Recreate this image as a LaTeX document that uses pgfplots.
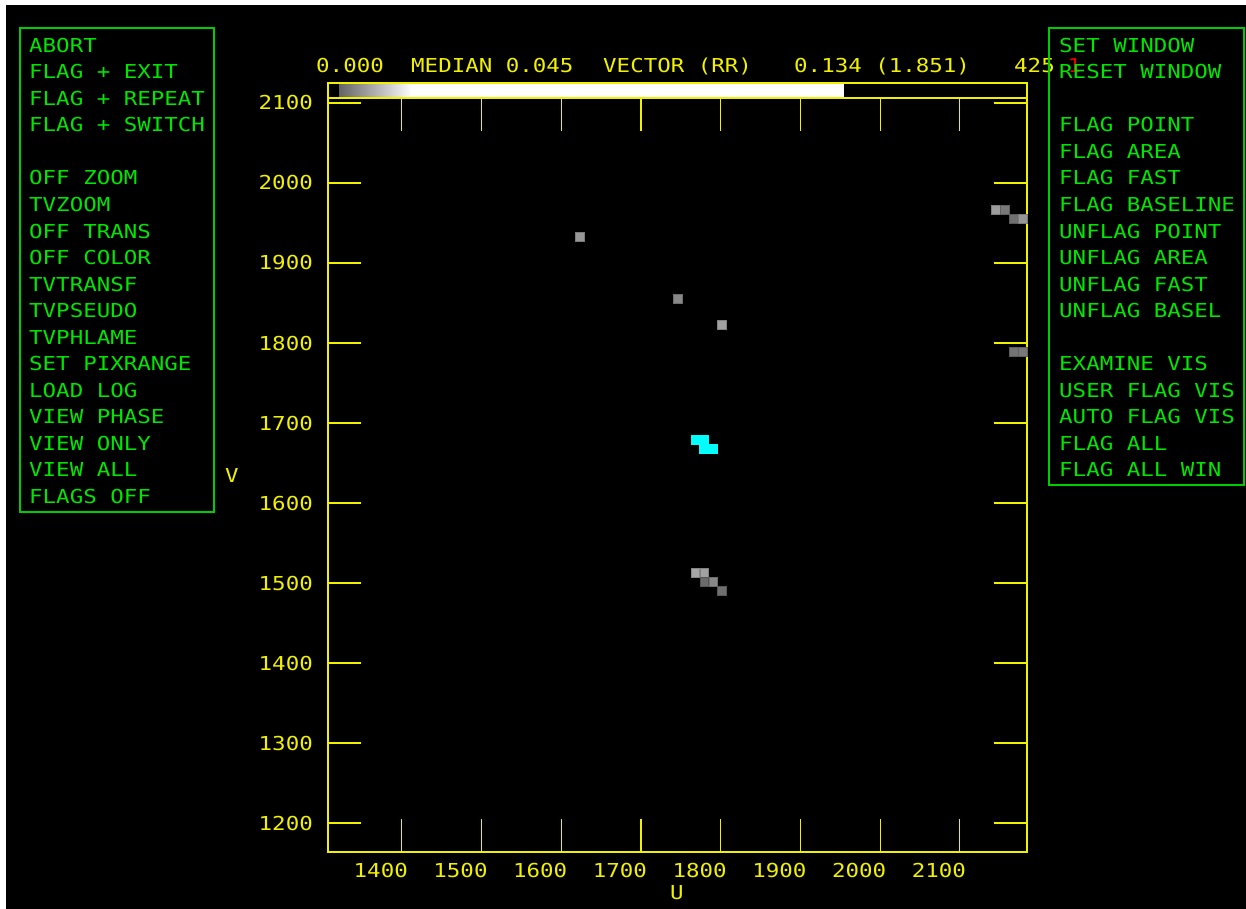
\documentclass[border=0pt]{standalone}
\usepackage{fontspec}
\usepackage{pgfplots}
\pgfplotsset{compat=1.18}
\newfontfamily\term[FakeStretch=1.17]{DejaVu Sans Mono}
\newcommand\tf{\term\fontsize{19.2}{20}\selectfont}
\definecolor{yl}{RGB}{240,240,0}
\definecolor{gn}{RGB}{0,230,0}
\definecolor{gnbox}{RGB}{0,205,0}
\definecolor{cy}{RGB}{0,255,255}
\definecolor{rd}{RGB}{230,0,0}
\definecolor{gstart}{RGB}{100,100,100}

\begin{document}
\begin{tikzpicture}
\useasboundingbox (0pt,0pt) rectangle (1246pt,-909pt);
\fill[black] (0pt,0pt) rectangle (1246pt,-909pt);
\fill[white] (0pt,0pt) rectangle (6pt,-909pt);
\fill[white] (0pt,0pt) rectangle (1246pt,-5pt);

\begin{axis}[
  at={(328pt,-852pt)}, anchor=south west,
  scale only axis, width=699pt, height=754pt,
  xmin=1307.5, xmax=2184.2, ymin=1163.75, ymax=2106.25,
  axis background/.style={fill=black},
  axis line style={yl, line width=1.5pt},
  xtick={1400,1500,...,2100},
  ytick={1200,1300,...,2100},
  xticklabels={1400,1500,1600,1700,1800,1900,2000,2100},
  yticklabels={1200,1300,1400,1500,1600,1700,1800,1900,2000,2100},
  tick align=inside, major tick length=33pt,
  tick style={yl, line width=1.2pt},
  xticklabel style={anchor=base, inner sep=0pt, xshift=-21pt, yshift=-25.3pt, font=\tf, text=yl},
  yticklabel style={anchor=base east, inner sep=0pt, xshift=-15pt, yshift=-7pt, font=\tf, text=yl},
  colormap={g}{gray(0cm)=(0); gray(1cm)=(1)},
  point meta min=0, point meta max=255,
  clip=true,
]
% grey cells (u, v) [grey level]
\addplot[scatter, only marks, mark=square*, mark size=4.45pt,
  scatter src=explicit] coordinates {
  (1623.7,1932.9) [150]
  (1745.9,1855.4) [135]
  (1801.1,1822.5) [160]
  (2145.0,1966.25) [155]
  (2156.0,1966.25) [120]
  (2167.5,1955.0) [110]
  (2178.5,1955.0) [150]
  (2167.5,1789.1) [115]
  (2178.5,1789.1) [120]
  (1768.1,1512.5) [165]
  (1779.3,1512.5) [160]
  (1779.3,1501.25) [105]
  (1790.6,1501.25) [135]
  (1801.6,1490.0) [110]
};
% selected cells
\addplot[only marks, mark=square*, mark size=4.45pt,
  mark options={fill=cy, draw=cy}] coordinates {
  (1768.0,1678.75) (1779.2,1678.75)
  (1779.2,1667.5) (1790.2,1667.5)
};
\end{axis}

\begin{scope}[x=1pt,y=-1pt]
% colour wedge above the plot
\shade[left color=gstart, right color=white] (339,84) rectangle (412,97);
\fill[white] (411.5,84) rectangle (844,97);
\draw[yl, line width=1.5pt] (328,83) rectangle (1027,98);

% header text
\tf
\node[anchor=base west, inner sep=0pt, text=yl] at (316,72.7) {0.000};
\node[anchor=base west, inner sep=0pt, text=yl] at (411,72.7) {MEDIAN 0.045};
\node[anchor=base west, inner sep=0pt, text=yl] at (603,72.7) {VECTOR (RR)};
\node[anchor=base west, inner sep=0pt, text=yl] at (794,72.7) {0.134 (1.851)};
\node[anchor=base west, inner sep=0pt, text=yl] at (1014,72.7) {425};
\node[anchor=base west, inner sep=0pt, text=rd] at (1067.4,72.7) {1};

% axis names
\node[anchor=base, inner sep=0pt, text=yl] at (232,482.7) {V};
\node[anchor=base, inner sep=0pt, text=yl] at (677,899) {U};

% left menu
\draw[gnbox, line width=2pt] (20,28) rectangle (214,512);
\foreach \t [count=\i from 0] in {ABORT,FLAG + EXIT,FLAG + REPEAT,FLAG + SWITCH,,OFF ZOOM,TVZOOM,OFF TRANS,OFF COLOR,TVTRANSF,TVPSEUDO,TVPHLAME,SET PIXRANGE,LOAD LOG,VIEW PHASE,VIEW ONLY,VIEW ALL,FLAGS OFF}
  \node[anchor=base west, inner sep=0pt, text=gn] at (29,52.3+26.53*\i) {\t};

% right menu
\draw[gnbox, line width=2pt] (1049,28) rectangle (1244,485);
\foreach \t [count=\i from 0] in {SET WINDOW,RESET WINDOW,,FLAG POINT,FLAG AREA,FLAG FAST,FLAG BASELINE,UNFLAG POINT,UNFLAG AREA,UNFLAG FAST,UNFLAG BASEL,,EXAMINE VIS,USER FLAG VIS,AUTO FLAG VIS,FLAG ALL,FLAG ALL WIN}
  \node[anchor=base west, inner sep=0pt, text=gn] at (1059,52.3+26.53*\i) {\t};
\end{scope}
\end{tikzpicture}
\end{document}
